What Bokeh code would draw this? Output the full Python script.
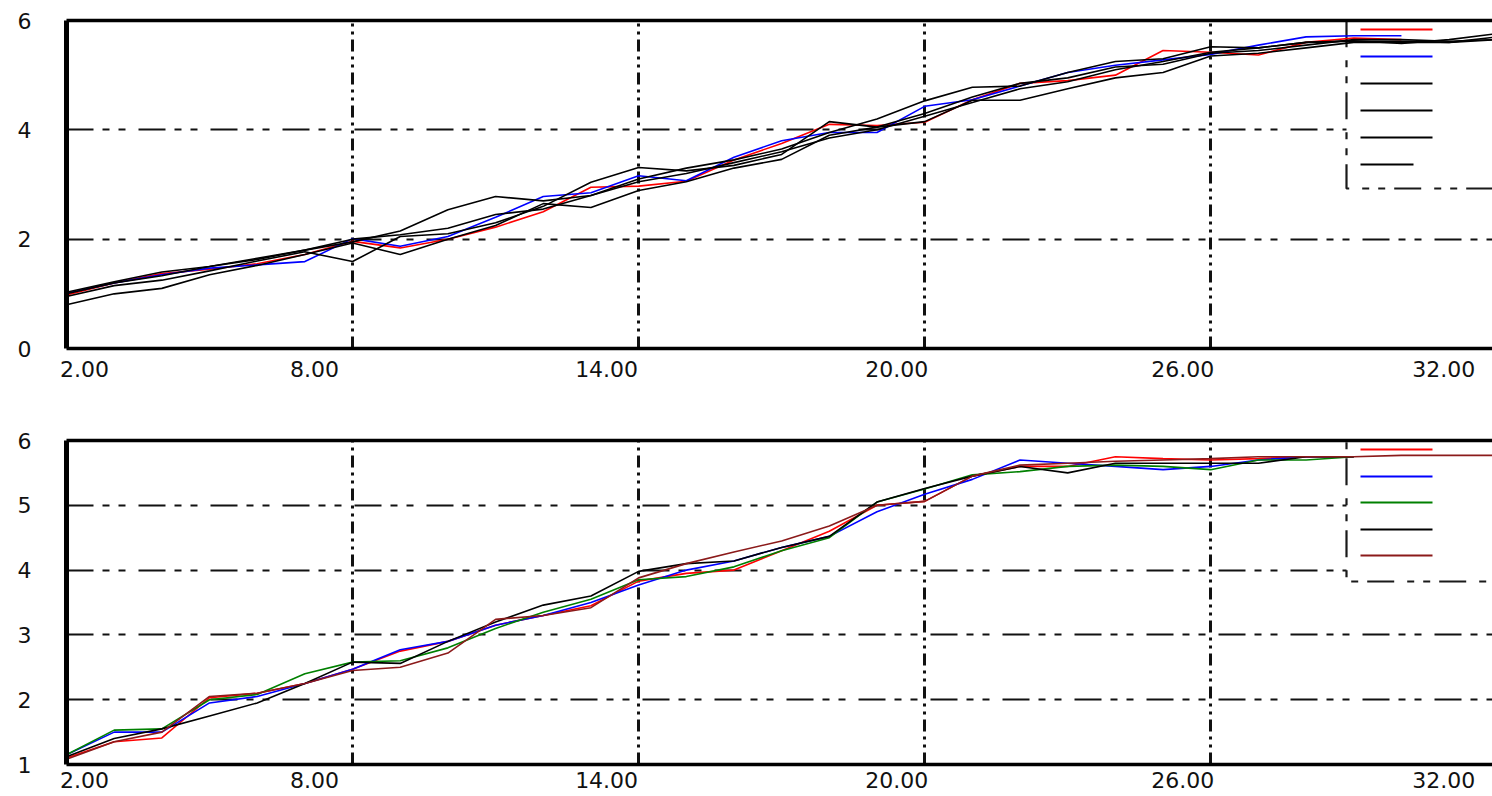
from bokeh.plotting import figure
from bokeh.models import Range1d, FixedTicker, LinearAxis, BoxAnnotation, Grid
from bokeh.layouts import column
from bokeh.embed import file_html
from bokeh.resources import INLINE

nan = float("nan")

# ---------------- data ----------------
x_values = list(range(2, 33))
x_tick_values = [2, 8, 14, 20, 26, 32]
x_tick_labels = ["2.00", "8.00", "14.00", "20.00", "26.00", "32.00"]
x_grid_values = [8, 14, 20, 26]

top_y_ticks = [0, 2, 4, 6]
bottom_y_ticks = [1, 2, 3, 4, 5, 6]

top_red = [0.98, 1.20, 1.37, 1.45, 1.55, 1.72, 1.96, 1.84, 2.00, 2.22, 2.50, 2.95, 2.97, 3.06, 3.45,
           3.75, 4.10, 4.08, 4.14, 4.55, 4.85, 4.90, 5.00, 5.45, 5.42, 5.37, 5.60, 5.68, 5.65, nan, nan]
top_blue = [1.01, 1.20, 1.35, 1.47, 1.53, 1.59, 2.01, 1.87, 2.05, 2.40, 2.78, 2.85, 3.16, 3.07, 3.50,
            3.80, 3.95, 3.95, 4.43, 4.55, 4.80, 5.05, 5.18, 5.28, 5.38, 5.55, 5.70, 5.72, 5.72, nan, nan]
top_black_a = [0.95, 1.15, 1.25, 1.42, 1.60, 1.77, 1.59, 2.05, 2.10, 2.30, 2.60, 3.04, 3.31, 3.25, 3.35,
               3.55, 4.15, 4.05, 4.30, 4.60, 4.85, 4.95, 5.15, 5.20, 5.40, 5.45, 5.55, 5.65, 5.65, 5.62, 5.65]
top_black_b = [1.00, 1.20, 1.33, 1.50, 1.65, 1.80, 1.95, 2.15, 2.54, 2.78, 2.70, 2.80, 3.10, 3.30, 3.45,
               3.65, 3.95, 4.20, 4.53, 4.78, 4.80, 5.05, 5.25, 5.30, 5.52, 5.50, 5.60, 5.62, 5.62, 5.60, 5.70]
top_black_c = [0.80, 1.00, 1.10, 1.35, 1.52, 1.72, 1.93, 1.72, 2.00, 2.25, 2.65, 2.58, 2.89, 3.05, 3.30,
               3.46, 3.90, 4.05, 4.15, 4.54, 4.54, 4.75, 4.95, 5.05, 5.35, 5.40, 5.50, 5.60, 5.60, 5.60, 5.65]
top_black_d = [1.03, 1.22, 1.40, 1.50, 1.63, 1.80, 2.00, 2.08, 2.20, 2.45, 2.55, 2.80, 3.05, 3.20, 3.40,
               3.60, 3.85, 4.00, 4.25, 4.50, 4.75, 4.88, 5.10, 5.25, 5.42, 5.50, 5.60, 5.63, 5.58, 5.65, 5.76]

bot_red = [1.10, 1.35, 1.41, 2.03, 2.10, 2.25, 2.47, 2.75, 2.90, 3.15, 3.30, 3.45, 3.83, 3.95, 4.00,
           4.30, 4.60, 5.00, 5.06, 5.45, 5.60, 5.60, 5.75, 5.72, 5.70, 5.72, 5.75, 5.75, nan, nan, nan]
bot_blue = [1.15, 1.50, 1.50, 1.95, 2.05, 2.25, 2.47, 2.77, 2.90, 3.15, 3.30, 3.50, 3.77, 4.00, 4.14,
            4.35, 4.52, 4.90, 5.17, 5.40, 5.70, 5.65, 5.60, 5.55, 5.60, 5.70, 5.75, 5.75, nan, nan, nan]
bot_green = [1.15, 1.53, 1.55, 2.00, 2.08, 2.40, 2.58, 2.60, 2.80, 3.10, 3.35, 3.55, 3.85, 3.90, 4.05,
             4.30, 4.50, 5.05, 5.25, 5.47, 5.52, 5.60, 5.62, 5.60, 5.55, 5.70, 5.70, 5.75, nan, nan, nan]
bot_black = [1.12, 1.40, 1.55, 1.75, 1.95, 2.25, 2.58, 2.56, 2.90, 3.20, 3.46, 3.60, 3.98, 4.10, 4.14,
             4.35, 4.52, 5.05, 5.26, 5.45, 5.60, 5.50, 5.65, 5.65, 5.65, 5.65, 5.75, 5.75, nan, nan, nan]
bot_brown = [1.08, 1.35, 1.50, 2.05, 2.10, 2.25, 2.45, 2.50, 2.72, 3.24, 3.30, 3.42, 3.88, 4.10, 4.28,
             4.45, 4.68, 5.00, 5.06, 5.45, 5.62, 5.65, 5.68, 5.70, 5.72, 5.75, 5.75, 5.75, 5.77, 5.77, 5.77]

top_series = [top_red, top_blue, top_black_a, top_black_b, top_black_c, top_black_d]
top_colors = ["#ff0000", "#0000ff", "#000000", "#000000", "#000000", "#000000"]
bot_series = [bot_red, bot_blue, bot_green, bot_black, bot_brown]
bot_colors = ["#ff0000", "#0000ff", "#008000", "#000000", "#8b1a1a"]

# ---------------- styling ----------------
FONT = "DejaVu Sans"
FONT_SIZE = "22px"
W = 1492
BORDER_LEFT = 66
X_END = 31.91
H_DASH = "27 9 7 9 7 13"
V_DASH = "12 5 3 5 3 5"
LABEL_SHIFT_PX = [18, -38, -32, -28, -28, -53]   # where each tick label sits relative to its tick


def make_panel(series, colors, ylo, yhi, yticks, height, btop, bbot,
               legend_rows_px, legend_lens_px, box_bottom_px, label_standoff):
    frame_h = height - btop - bbot
    frame_w = W - BORDER_LEFT
    ppu_y = frame_h / (yhi - ylo)
    ppu_x = frame_w / (X_END - 2)

    p = figure(width=W, height=height, x_range=Range1d(2, X_END), y_range=Range1d(ylo, yhi),
               output_backend="svg", toolbar_location=None,
               min_border_left=BORDER_LEFT, min_border_right=0,
               min_border_top=btop, min_border_bottom=bbot,
               x_axis_type=None, y_axis_type=None)
    p.outline_line_color = None
    p.background_fill_color = "white"
    p.border_fill_color = "white"

    # bottom axis: labels placed where the original program drew them
    label_pos = [round(t + s / ppu_x, 3) for t, s in zip(x_tick_values, LABEL_SHIFT_PX)]
    xb = LinearAxis(ticker=FixedTicker(ticks=label_pos))
    xb.major_label_overrides = {pos: lab for pos, lab in zip(label_pos, x_tick_labels)}
    xb.axis_line_width = 3.5
    xb.axis_line_color = "black"
    xb.major_tick_line_color = None
    xb.major_tick_out = 0
    xb.major_tick_in = 0
    xb.minor_tick_line_color = None
    xb.major_label_standoff = label_standoff
    xb.major_label_text_font = FONT
    xb.major_label_text_font_size = FONT_SIZE
    xb.major_label_text_color = "#111111"
    p.add_layout(xb, "below")

    xt = LinearAxis(ticker=FixedTicker(ticks=[]))
    xt.axis_line_width = 3.5
    xt.axis_line_color = "black"
    xt.major_tick_line_color = None
    xt.minor_tick_line_color = None
    xt.major_label_standoff = 0
    p.add_layout(xt, "above")

    yl = LinearAxis(ticker=FixedTicker(ticks=yticks))
    yl.axis_line_width = 5
    yl.axis_line_color = "black"
    yl.major_tick_line_color = None
    yl.minor_tick_line_color = None
    yl.major_tick_out = 0
    yl.major_tick_in = 0
    yl.major_label_standoff = 35
    yl.major_label_text_font = FONT
    yl.major_label_text_font_size = FONT_SIZE
    yl.major_label_text_color = "#111111"
    p.add_layout(yl, "left")

    # grids
    gx = Grid(dimension=0, ticker=FixedTicker(ticks=x_grid_values))
    gx.grid_line_color = "#111111"
    gx.grid_line_width = 3
    gx.grid_line_dash = V_DASH
    gy = Grid(dimension=1, ticker=FixedTicker(ticks=[t for t in yticks if ylo < t < yhi]))
    gy.grid_line_color = "#111111"
    gy.grid_line_width = 2.2
    gy.grid_line_dash = H_DASH
    p.add_layout(gx)
    p.add_layout(gy)

    # legend box (white, dashed border), under the data lines
    box_left = 2 + (1346 - BORDER_LEFT) / ppu_x
    box = BoxAnnotation(left=box_left, right=X_END + 2,
                        bottom=yhi - box_bottom_px / ppu_y, top=yhi,
                        fill_color="white", fill_alpha=1.0,
                        line_color="#1a1a1a", line_alpha=1.0, line_width=2.2, line_dash=H_DASH,
                        level="underlay")
    p.add_layout(box)

    for ys, c in zip(series, colors):
        p.line(x_values, ys, line_color=c, line_width=1.6)

    # legend samples
    lx0 = 2 + (1360 - BORDER_LEFT) / ppu_x
    x1s = [2 + (1360 + L - BORDER_LEFT) / ppu_x for L in legend_lens_px]
    lys = [yhi - r / ppu_y for r in legend_rows_px]
    p.segment(x0=[lx0] * len(colors), y0=lys, x1=x1s, y1=lys,
              line_color=colors, line_width=1.8)
    return p


top = make_panel(top_series, top_colors, 0, 6, top_y_ticks, 396, 20, 48,
                 [9, 36, 63, 90, 117, 144], [72, 72, 72, 72, 72, 53], 168, 12)
bottom = make_panel(bot_series, bot_colors, 1, 6, bottom_y_ticks, 400, 44, 32,
                    [9, 36, 62, 89, 115], [72, 72, 72, 72, 72], 141, 7)

layout = column(top, bottom, spacing=0)
open("out.html", "w").write(file_html(layout, INLINE))
